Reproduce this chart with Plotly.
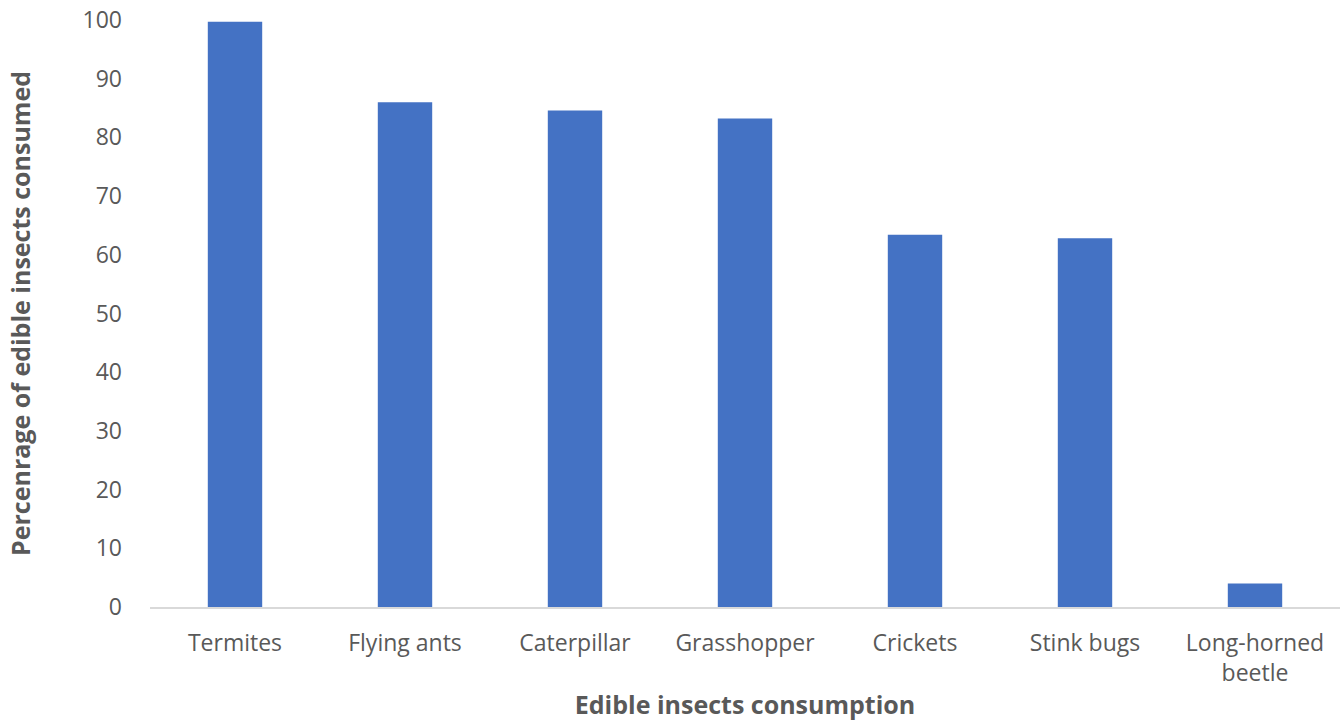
import plotly.graph_objects as go

categories = ["Termites", "Flying ants", "Caterpillar", "Grasshopper", "Crickets", "Stink bugs", "Long-horned<br>beetle"]
values = [99.7, 86.0, 84.6, 83.2, 63.4, 62.8, 4.0]
y_ticks = [0, 10, 20, 30, 40, 50, 60, 70, 80, 90, 100]

fig = go.Figure(go.Bar(x=categories, y=values, marker=dict(color="#4472C4", line=dict(width=0)), width=0.32))

font_fam = "Open Sans, Liberation Sans, sans-serif"
fig.update_layout(
    width=1343, height=721,
    margin=dict(l=150, r=3, t=20, b=114),
    plot_bgcolor="white", paper_bgcolor="white",
    showlegend=False,
    font=dict(family=font_fam, color="#595959", size=23),
)
fig.update_xaxes(
    showline=True, linecolor="#D9D9D9", linewidth=2, showgrid=False, ticks="",
    tickfont=dict(size=23, color="#595959"), ticklabelstandoff=14,
    title=dict(text="<b>Edible insects consumption</b>", font=dict(size=25, color="#595959"), standoff=10),
)
fig.update_yaxes(
    range=[0, 100], tickvals=y_ticks, showgrid=False, showline=False, zeroline=False, ticks="",
    tickfont=dict(size=23, color="#595959"), ticklabelstandoff=27,
    title=dict(text="<b>Percenrage of edible insects consumed</b>", font=dict(size=25, color="#595959"), standoff=44),
)
fig.write_html("out.html")
